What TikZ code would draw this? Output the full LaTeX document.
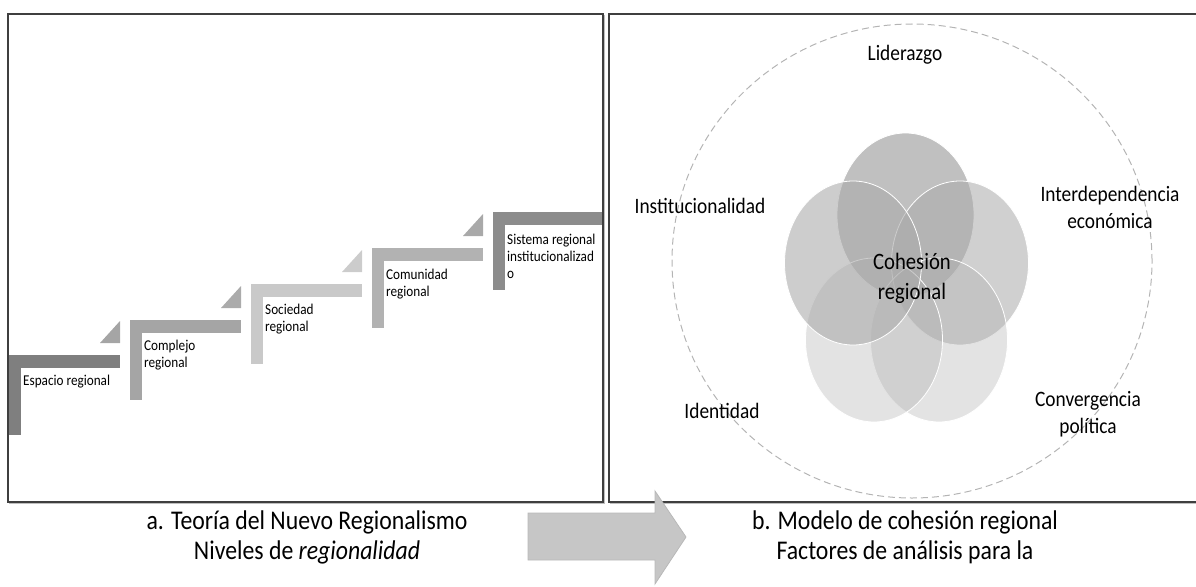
\documentclass[tikz,border=0pt]{standalone}
\usepackage{fontspec}
\setmainfont{Carlito}[FakeStretch=0.88]
\usetikzlibrary{shapes.geometric}
\definecolor{espC}{HTML}{7F7F7F}
\definecolor{espT}{HTML}{A5A5A5}
\definecolor{comC}{HTML}{A5A5A5}
\definecolor{comT}{HTML}{ABABAB}
\definecolor{socC}{HTML}{C9C9C9}
\definecolor{socT}{HTML}{CCCCCC}
\definecolor{cmnC}{HTML}{B2B2B2}
\definecolor{cmnT}{HTML}{A9A9A9}
\definecolor{sisC}{HTML}{8C8C8C}
\definecolor{frameC}{HTML}{3F3F3F}
\definecolor{shadowC}{HTML}{BFBFBF}
\definecolor{dashC}{HTML}{B4B4B4}
\definecolor{vennC}{HTML}{AAAAAA}
\definecolor{arrowC}{HTML}{C6C6C6}
\definecolor{arrowD}{HTML}{B8B8B8}
\begin{document}
\begin{tikzpicture}[x=1pt,y=-1pt,
  steptxt/.style={inner sep=0pt, align=left, anchor=west, font=\fontsize{15}{17}\selectfont},
  factor/.style={inner sep=0pt, align=center, font=\fontsize{22}{27}\selectfont},
  caption/.style={inner sep=0pt, align=center, font=\fontsize{27}{30}\selectfont},
  venn/.style={ellipse, inner sep=0pt, minimum width=137pt, minimum height=164pt, fill=vennC, draw=white, line width=0.8pt},
  frame/.style={draw=frameC, line width=1.3pt},
  shadowline/.style={draw=shadowC, line width=1pt}
]
\useasboundingbox (0,0) rectangle (1196,586);

% panel frames
\draw[shadowline] (604.5,15) -- (604.5,503.5) -- (9,503.5);
\draw[frame] (8,14) rectangle (603,502);
\draw[shadowline] (610,503.5) -- (1196,503.5);
\draw[frame] (1200,14) -- (609,14) -- (609,502) -- (1200,502);

% staircase
\fill[espC] (9,355) rectangle (120,368);
\fill[espC] (9,355) rectangle (21,435);
\fill[espT] (100,343) -- (120,343) -- (120,321) -- cycle;

\fill[comC] (130,320) rectangle (241,333);
\fill[comC] (130,320) rectangle (142,400);
\fill[comT] (221,308) -- (241,308) -- (241,286) -- cycle;

\fill[socC] (251,284) rectangle (362,297);
\fill[socC] (251,284) rectangle (263,364);
\fill[socT] (342,272) -- (362,272) -- (362,250) -- cycle;

\fill[cmnC] (372,248) rectangle (483,261);
\fill[cmnC] (372,248) rectangle (384,328);
\fill[cmnT] (463,236) -- (483,236) -- (483,214) -- cycle;

\fill[sisC] (493,212) rectangle (602,225);
\fill[sisC] (493,212) rectangle (505,290);

\node[steptxt] (esp) at (23,382) {Espacio regional};
\node[steptxt] (comp) at (144,355) {Complejo\\regional};
\node[steptxt] (soc) at (265,319) {Sociedad\\regional};
\node[steptxt] (cmn) at (386,284) {Comunidad\\regional};
\node[steptxt] (sis) at (507,256) {Sistema regional\\institucionalizad\\o};

% dashed outer circle
\draw[dashC, line width=1pt, dash pattern=on 7pt off 4pt] (912,261) ellipse [x radius=240pt, y radius=237pt];

% venn ellipses
\node[venn, fill opacity=0.74] (vtop) at (905.5,215) {};
\node[venn, fill opacity=0.55] (vright) at (960,263) {};
\node[venn, fill opacity=0.33] (vbr) at (939,340) {};
\node[venn, fill opacity=0.33] (vbl) at (874,340) {};
\node[venn, fill opacity=0.59] (vleft) at (853,263) {};

\node[inner sep=0pt, align=center, font=\fontsize{23.5}{30}\selectfont] (coh) at (912,278) {Cohesión\\regional};

% factor labels
\node[factor] (lid) at (905,55) {Liderazgo};
\node[factor] (inst) at (700,206) {Institucionalidad};
\node[factor] (inter) at (1110,207) {Interdependencia\\económica};
\node[factor] (iden) at (722,411) {Identidad};
\node[factor] (conv) at (1088,414) {Convergencia\\política};

% captions
\node[caption] (capa) at (307,537) {a. Teoría del Nuevo Regionalismo\\Niveles de \textit{regionalidad}};
\node[caption] (capb) at (905,537) {b. Modelo de cohesión regional\\Factores de análisis para la};

% block arrow
\filldraw[fill=arrowC, draw=arrowD, line width=0.8pt]
  (528,513) -- (655,513) -- (655,491) -- (686,537) -- (655,584) -- (655,560) -- (528,560) -- cycle;
\end{tikzpicture}
\end{document}
